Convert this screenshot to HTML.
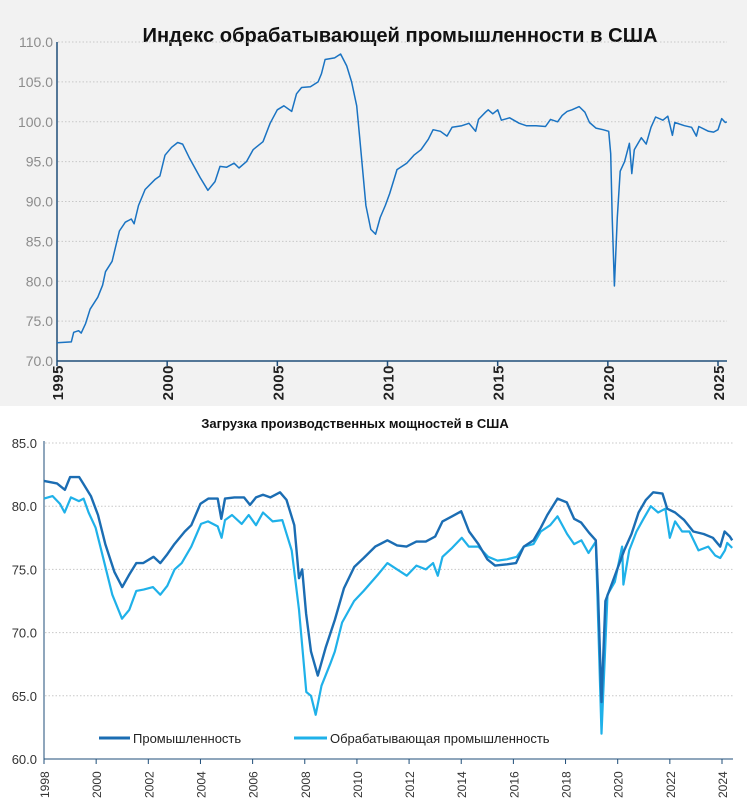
<!DOCTYPE html>
<html><head><meta charset="utf-8"><style>
body{margin:0;width:747px;height:800px;background:#fff;overflow:hidden;font-family:"Liberation Sans",sans-serif}
svg{position:absolute;left:0;top:0}
</style></head><body>
<svg width="747" height="800">
<rect x="0" y="0" width="747" height="406" fill="#f2f2f2"/>
<g id="top"></g>
<g id="bot"></g>
</svg>
<script>
const topYears=[1995.0,1995.65,1995.76,1995.98,1996.1,1996.3,1996.5,1996.85,1997.07,1997.2,1997.5,1997.83,1998.1,1998.37,1998.5,1998.7,1999.0,1999.46,1999.67,1999.9,2000.2,2000.48,2000.7,2001.0,2001.5,2001.85,2002.17,2002.4,2002.7,2003.04,2003.26,2003.6,2003.9,2004.35,2004.67,2005.0,2005.3,2005.65,2005.87,2006.1,2006.5,2006.85,2007.0,2007.17,2007.6,2007.87,2008.15,2008.37,2008.6,2008.74,2009.02,2009.24,2009.46,2009.67,2009.9,2010.1,2010.43,2010.87,2011.2,2011.52,2011.85,2012.07,2012.4,2012.7,2012.93,2013.37,2013.7,2014.0,2014.13,2014.45,2014.57,2014.78,2015.0,2015.17,2015.54,2015.98,2016.3,2016.74,2017.17,2017.4,2017.72,2017.93,2018.15,2018.37,2018.7,2018.96,2019.17,2019.46,2019.78,2020.04,2020.13,2020.2,2020.3,2020.43,2020.56,2020.76,2020.98,2021.09,2021.2,2021.52,2021.74,2021.96,2022.17,2022.5,2022.72,2022.93,2023.04,2023.48,2023.8,2024.02,2024.13,2024.57,2024.8,2025.0,2025.17,2025.33,2025.4];
const topValues=[72.3,72.4,73.6,73.8,73.5,74.7,76.5,78.0,79.5,81.2,82.5,86.3,87.4,87.8,87.2,89.5,91.5,92.8,93.2,95.8,96.8,97.4,97.2,95.5,93.0,91.4,92.5,94.4,94.3,94.8,94.2,95.0,96.5,97.5,99.8,101.5,102.0,101.3,103.5,104.3,104.4,105.0,106.0,107.8,108.0,108.5,107.0,105.0,102.0,98.0,89.5,86.5,85.9,88.0,89.5,91.0,94.0,94.8,95.8,96.5,97.8,99.0,98.8,98.2,99.3,99.5,99.8,98.8,100.3,101.2,101.5,101.0,101.5,100.2,100.5,99.8,99.5,99.5,99.4,100.3,100.0,100.8,101.3,101.5,101.9,101.2,99.9,99.2,99.0,98.8,96.0,88.0,79.4,88.0,93.8,95.0,97.3,93.5,96.5,98.0,97.2,99.3,100.6,100.2,100.7,98.3,99.9,99.5,99.3,98.2,99.4,98.8,98.7,99.0,100.4,99.9,100.0];
const topYTicks=[70,75,80,85,90,95,100,105,110];
const topXTicks=[1995,2000,2005,2010,2015,2020,2025];

const indYears=[1998.0,1998.5,1998.8,1999.0,1999.35,1999.5,1999.8,2000.07,2000.35,2000.7,2001.0,2001.27,2001.54,2001.8,2002.2,2002.46,2002.73,2003.0,2003.4,2003.65,2004.0,2004.3,2004.66,2004.8,2004.94,2005.3,2005.67,2005.9,2006.13,2006.4,2006.68,2007.05,2007.3,2007.6,2007.78,2007.9,2008.05,2008.24,2008.5,2008.8,2009.15,2009.5,2009.9,2010.26,2010.7,2011.17,2011.54,2011.9,2012.28,2012.64,2013.0,2013.28,2013.65,2014.0,2014.3,2014.66,2015.0,2015.3,2015.76,2016.1,2016.4,2016.77,2017.05,2017.3,2017.69,2018.05,2018.33,2018.6,2018.9,2019.16,2019.25,2019.38,2019.53,2019.8,2020.07,2020.25,2020.53,2020.8,2021.08,2021.36,2021.72,2021.9,2022.2,2022.55,2022.9,2023.3,2023.65,2023.93,2024.1,2024.3,2024.39];
const indValues=[82.0,81.8,81.3,82.3,82.3,81.8,80.8,79.3,77.0,74.8,73.6,74.6,75.5,75.5,76.0,75.5,76.2,77.0,78.0,78.5,80.2,80.6,80.6,79.0,80.6,80.7,80.7,80.1,80.7,80.9,80.7,81.1,80.5,78.5,74.3,75.0,71.5,68.5,66.6,68.8,71.0,73.5,75.2,75.9,76.8,77.3,76.9,76.8,77.2,77.2,77.6,78.8,79.2,79.6,78.0,77.0,75.8,75.3,75.4,75.5,76.8,77.3,78.3,79.3,80.6,80.3,79.0,78.7,77.9,77.3,73.0,64.5,72.5,74.0,75.5,76.5,77.8,79.5,80.5,81.1,81.0,79.8,79.5,78.9,78.0,77.8,77.5,76.8,78.0,77.6,77.3];
const mfgYears=[1998.0,1998.33,1998.61,1998.79,1999.03,1999.34,1999.52,1999.71,1999.98,2000.26,2000.62,2000.99,2001.27,2001.54,2001.82,2002.18,2002.46,2002.73,2003.01,2003.28,2003.65,2004.02,2004.29,2004.66,2004.81,2004.94,2005.21,2005.58,2005.85,2006.13,2006.4,2006.77,2007.14,2007.5,2007.78,2008.06,2008.24,2008.42,2008.64,2008.97,2009.15,2009.43,2009.89,2010.26,2010.81,2011.17,2011.54,2011.91,2012.28,2012.64,2012.92,2013.1,2013.28,2013.65,2014.02,2014.29,2014.66,2015.03,2015.39,2015.76,2016.13,2016.4,2016.77,2017.05,2017.41,2017.69,2018.06,2018.33,2018.61,2018.88,2019.16,2019.38,2019.61,2019.89,2020.17,2020.22,2020.44,2020.72,2020.99,2021.27,2021.55,2021.83,2022.0,2022.2,2022.47,2022.75,2023.1,2023.47,2023.74,2023.93,2024.11,2024.2,2024.39];
const mfgValues=[80.6,80.8,80.2,79.5,80.7,80.4,80.6,79.5,78.3,76.0,73.0,71.1,71.8,73.3,73.4,73.6,73.0,73.7,75.0,75.5,76.8,78.6,78.8,78.4,77.5,78.9,79.3,78.6,79.3,78.5,79.5,78.8,78.9,76.5,71.8,65.3,65.0,63.5,65.8,67.5,68.5,70.8,72.5,73.3,74.6,75.5,75.0,74.5,75.3,75.0,75.5,74.5,76.0,76.7,77.5,76.8,76.8,76.0,75.7,75.8,76.0,76.8,77.0,78.0,78.5,79.2,77.8,77.0,77.3,76.3,77.2,62.0,73.0,74.0,76.8,73.8,76.5,78.0,79.0,80.0,79.5,79.8,77.5,78.8,78.0,78.0,76.5,76.8,76.1,75.9,76.5,77.1,76.7];
const botYTicks=[60,65,70,75,80,85];
const botXTicks=[1998,2000,2002,2004,2006,2008,2010,2012,2014,2016,2018,2020,2022,2024];

const NS="http://www.w3.org/2000/svg";
function mk(p,t,a){const e=document.createElementNS(NS,t);for(const k in a)e.setAttribute(k,a[k]);p.appendChild(e);return e;}

// top chart
const T=document.getElementById('top');
const tx=y=>57+(y-1995)*(661/30);
const ty=v=>361-(v-70)*(319/40);
let e=mk(T,'text',{x:400,y:42,'text-anchor':'middle','font-size':'20','font-weight':'bold',fill:'#111',textLength:'515',lengthAdjust:'spacingAndGlyphs'});
e.textContent='Индекс обрабатывающей промышленности в США';


topYTicks.forEach(v=>{
 if(v>70){const g=mk(T,'line',{x1:58,x2:727,y1:ty(v),y2:ty(v),stroke:'#c8c8c8','stroke-dasharray':'1.5 2'});
 
 }
 const t=mk(T,'text',{x:53,y:ty(v)+5,'text-anchor':'end','font-size':'14',fill:'#8c8c8c'});
 t.textContent=v.toFixed(1);
 
 
});
mk(T,'line',{x1:57,x2:57,y1:42,y2:361,stroke:'#1f4e79','stroke-width':1.5});
mk(T,'line',{x1:57,x2:727,y1:361,y2:361,stroke:'#1f4e79','stroke-width':1.5});
topXTicks.forEach(y=>{
 const x=tx(y);
 mk(T,'line',{x1:x,x2:x,y1:361,y2:366,stroke:'#1f4e79','stroke-width':1.5});
 const t=mk(T,'text',{x:0,y:0,transform:`translate(${x+6},${365}) rotate(-90)`,'text-anchor':'end','font-size':'15','font-weight':'bold',fill:'#222','letter-spacing':'0.5'});
 t.textContent=y;
 
 
});
const tl=mk(T,'polyline',{fill:'none',stroke:'#1a73c2','stroke-width':1.5,'stroke-linejoin':'round',points:topYears.map((y,i)=>tx(y).toFixed(1)+','+ty(topValues[i]).toFixed(1)).join(' ')});



// bottom chart
const B=document.getElementById('bot');
const bx=y=>44+(y-1998)*(678/26);
const by=v=>759-(v-60)*(316/25);
e=mk(B,'text',{x:355,y:428,'text-anchor':'middle','font-size':'13','font-weight':'bold',fill:'#111'});
e.textContent='Загрузка производственных мощностей в США';


botYTicks.forEach(v=>{
 if(v>60){const g=mk(B,'line',{x1:45,x2:733,y1:by(v),y2:by(v),stroke:'#c8c8c8','stroke-dasharray':'1.5 2'});
 
 }
 const t=mk(B,'text',{x:37,y:by(v)+5,'text-anchor':'end','font-size':'13',fill:'#333'});
 t.textContent=v.toFixed(1);
 
 
});
mk(B,'line',{x1:44,x2:44,y1:441,y2:759,stroke:'#1f4e79','stroke-width':1});
mk(B,'line',{x1:44,x2:733,y1:759,y2:759,stroke:'#1f4e79','stroke-width':1});
botXTicks.forEach(y=>{
 const x=bx(y);
 mk(B,'line',{x1:x,x2:x,y1:759,y2:764,stroke:'#1f4e79'});
 const t=mk(B,'text',{x:0,y:0,transform:`translate(${x+5},${798}) rotate(-90)`,'font-size':'12',fill:'#333'});
 t.textContent=y;
 
 
});
const ml=mk(B,'polyline',{fill:'none',stroke:'#1fb1e9','stroke-width':2.2,'stroke-linejoin':'round',points:mfgYears.map((y,i)=>bx(y).toFixed(1)+','+by(mfgValues[i]).toFixed(1)).join(' ')});


const il=mk(B,'polyline',{fill:'none',stroke:'#1b6db3','stroke-width':2.4,'stroke-linejoin':'round',points:indYears.map((y,i)=>bx(y).toFixed(1)+','+by(indValues[i]).toFixed(1)).join(' ')});


// legend
const L=mk(B,'g',{});


mk(L,'line',{x1:99,x2:130,y1:738,y2:738,stroke:'#1b6db3','stroke-width':3});
e=mk(L,'text',{x:133,y:743,'font-size':'13',fill:'#222'});e.textContent='Промышленность';


mk(L,'line',{x1:294,x2:327,y1:738,y2:738,stroke:'#1fb1e9','stroke-width':3});
e=mk(L,'text',{x:330,y:743,'font-size':'13',fill:'#222'});e.textContent='Обрабатывающая промышленность';


</script>
</body></html>
